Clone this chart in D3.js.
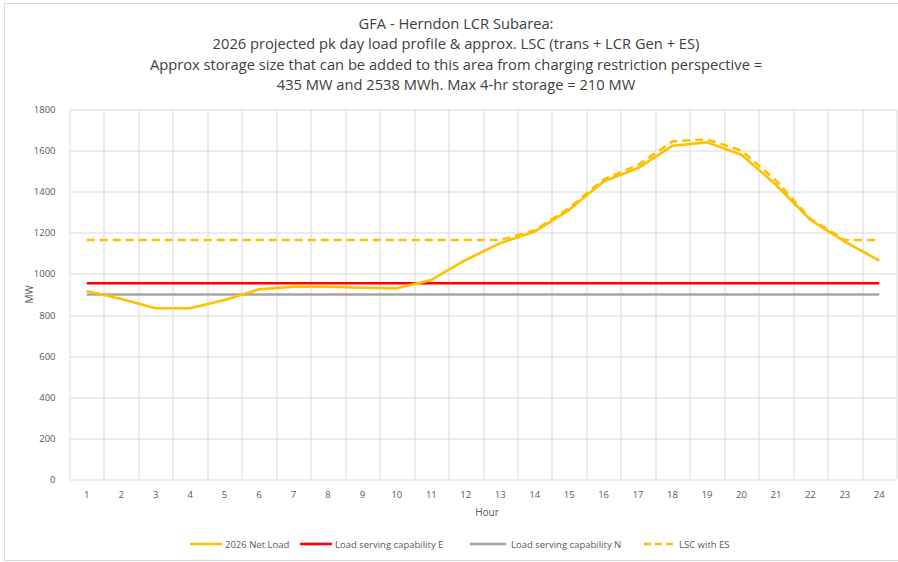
<!DOCTYPE html>
<html lang="en">
<head>
<meta charset="utf-8">
<title>GFA - Herndon LCR Subarea</title>
<script src="https://cdn.jsdelivr.net/npm/d3@7/dist/d3.min.js"></script>
<style>
  body { margin: 0; background: #fff; }
  svg { display: block; font-family: "Liberation Sans Narrow", "Open Sans", sans-serif; }
</style>
</head>
<body>
<script>
// chart values
var hours = [1,2,3,4,5,6,7,8,9,10,11,12,13,14,15,16,17,18,19,20,21,22,23,24];
var netLoad = [917,878,833,833,873,925,938,938,933,930,971,1068,1150,1206,1312,1450,1515,1624,1640,1580,1434,1263,1157,1065];
var lscE = [955,955,955,955,955,955,955,955,955,955,955,955,955,955,955,955,955,955,955,955,955,955,955,955];
var lscN = [900,900,900,900,900,900,900,900,900,900,900,900,900,900,900,900,900,900,900,900,900,900,900,900];
var lscES = [1165,1165,1165,1165,1165,1165,1165,1165,1165,1165,1165,1165,1165,1212,1320,1460,1530,1645,1655,1600,1455,1268,1165,1165];
var yTicks = [0,200,400,600,800,1000,1200,1400,1600,1800];
var titleLines = [
  "GFA - Herndon LCR Subarea:",
  "2026 projected pk day load profile & approx. LSC (trans + LCR Gen + ES)",
  "Approx storage size that can be added to this area from charging restriction perspective =",
  "435 MW and 2538 MWh. Max 4-hr storage = 210 MW"
];

var series = [
  {name: "2026 Net Load", values: netLoad, color: "#FFC000", dash: null},
  {name: "Load serving capability E", values: lscE, color: "#FF0000", dash: null},
  {name: "Load serving capability N", values: lscN, color: "#A5A5A5", dash: null},
  {name: "LSC with ES", values: lscES, color: "#FFC000", dash: "8,5"}
];

var W = 898, H = 562;
var margin = {top: 109.5, right: 1.5, bottom: 82.5, left: 69.5};
var w = W - margin.left - margin.right;
var h = H - margin.top - margin.bottom;

var svg = d3.select("body").append("svg")
    .attr("width", W)
    .attr("height", H);

// outer chart border
svg.append("rect")
    .attr("x", 4.5).attr("y", 3.5)
    .attr("width", W + 10).attr("height", H - 5)
    .attr("fill", "none").attr("stroke", "#D9D9D9");

svg.selectAll(".title")
    .data(titleLines)
  .enter().append("text")
    .attr("class", "title")
    .attr("x", 456)
    .attr("y", function(d, i) { return 29 + i * 20.3; })
    .attr("text-anchor", "middle")
    .attr("font-size", 14.7)
    .attr("fill", "#404040")
    .text(function(d) { return d; });

var g = svg.append("g")
    .attr("transform", "translate(" + margin.left + "," + margin.top + ")");

var x = d3.scaleBand().domain(hours).range([0, w]);
var y = d3.scaleLinear().domain([0, 1800]).range([h, 0]);

// horizontal gridlines
g.selectAll(".hgrid")
    .data(yTicks)
  .enter().append("line")
    .attr("x1", 0).attr("x2", w)
    .attr("y1", function(d) { return Math.round(y(d)) + 0.5; })
    .attr("y2", function(d) { return Math.round(y(d)) + 0.5; })
    .attr("stroke", "#D9D9D9");

// vertical gridlines at category boundaries
var bounds = hours.map(function(d) { return x(d); }).concat([w]);
g.selectAll(".vgrid")
    .data(bounds)
  .enter().append("line")
    .attr("x1", function(d) { return Math.round(d) + 0.5; })
    .attr("x2", function(d) { return Math.round(d) + 0.5; })
    .attr("y1", 0).attr("y2", h)
    .attr("stroke", "#D9D9D9");

// axes
var xAxis = d3.axisBottom(x).tickSize(0).tickPadding(12);
var yAxis = d3.axisLeft(y).tickValues(yTicks).tickFormat(d3.format("d")).tickSize(0).tickPadding(14);

g.append("g")
    .attr("transform", "translate(0," + h + ")")
    .call(xAxis)
    .call(function(s) { s.select(".domain").remove(); })
    .selectAll("text")
    .attr("font-size", 9.5)
    .attr("font-family", "Liberation Sans Narrow, Open Sans, sans-serif")
    .attr("fill", "#595959");

g.append("g")
    .call(yAxis)
    .call(function(s) { s.select(".domain").remove(); })
    .selectAll("text")
    .attr("font-size", 9.5)
    .attr("font-family", "Liberation Sans Narrow, Open Sans, sans-serif")
    .attr("fill", "#595959");

// axis titles
svg.append("text")
    .attr("x", 487).attr("y", 516)
    .attr("text-anchor", "middle")
    .attr("font-size", 10)
    .attr("fill", "#595959")
    .text("Hour");

svg.append("text")
    .attr("transform", "translate(33," + (margin.top + h / 2) + ") rotate(-90)")
    .attr("text-anchor", "middle")
    .attr("font-size", 10)
    .attr("fill", "#595959")
    .text("MW");

// series lines, drawn grey/red first then yellow on top
var line = d3.line()
    .x(function(d, i) { return x(hours[i]) + x.bandwidth() / 2; })
    .y(function(d) { return y(d); });

var order = [2, 1, 0, 3];
order.forEach(function(k) {
  var s = series[k];
  g.append("path")
    .datum(s.values)
    .attr("d", line)
    .attr("fill", "none")
    .attr("stroke", s.color)
    .attr("stroke-width", 2.6)
    .attr("stroke-dasharray", s.dash)
    .attr("stroke-linejoin", "round");
});

// legend
var legendX = [190, 300, 470, 644];
var legend = svg.selectAll(".legend")
    .data(series)
  .enter().append("g")
    .attr("transform", function(d, i) { return "translate(" + legendX[i] + ",544)"; });

legend.append("line")
    .attr("x1", 0).attr("x2", function(d, i) { return i == 2 ? 36 : 32; })
    .attr("y1", 0).attr("y2", 0)
    .attr("stroke", function(d) { return d.color; })
    .attr("stroke-width", 2.6)
    .attr("stroke-dasharray", function(d) { return d.dash ? "7,4" : null; });

legend.append("text")
    .attr("x", function(d, i) { return i == 2 ? 41 : 35; })
    .attr("y", 3.5)
    .attr("font-size", 9.5)
    .attr("fill", "#595959")
    .text(function(d) { return d.name; });
</script>
</body>
</html>
